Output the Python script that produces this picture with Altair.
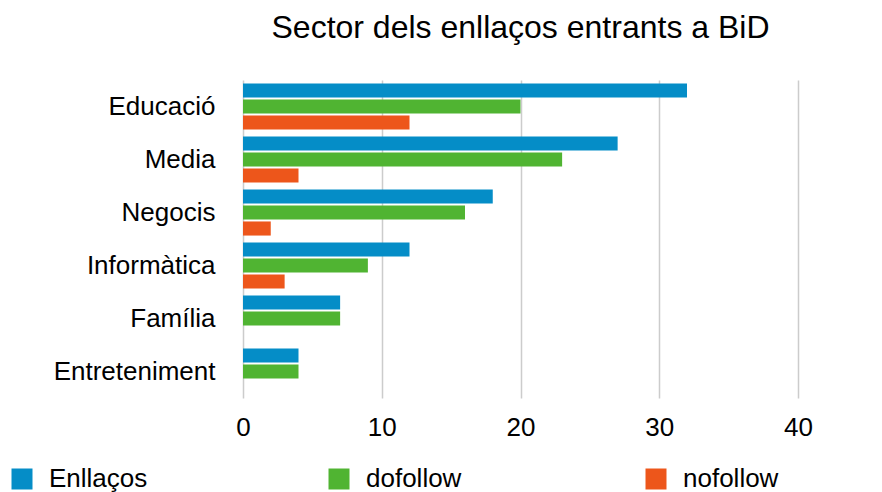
import altair as alt
import pandas as pd

categories = ["Educació", "Media", "Negocis", "Informàtica", "Família", "Entreteniment"]
series = ["Enllaços", "dofollow", "nofollow"]
enllacos = [32, 27, 18, 12, 7, 4]
dofollow = [20, 23, 16, 9, 7, 4]
nofollow = [12, 4, 2, 3, 0, 0]
colors = ["#058DC7", "#50B432", "#ED561B"]
x_ticks = [0, 10, 20, 30, 40]

rows = []
for i, c in enumerate(categories):
    for s, vals in zip(series, [enllacos, dofollow, nofollow]):
        rows.append({"Sector": c, "Serie": s, "Valor": vals[i]})
df = pd.DataFrame(rows)

FONT = "Liberation Sans"

chart = alt.Chart(df).mark_bar().encode(
    y=alt.Y("Sector:N", sort=categories,
            scale=alt.Scale(paddingInner=0.13, paddingOuter=0.065),
            axis=alt.Axis(title=None, ticks=False, domain=False, grid=False,
                          labelFontSize=26, labelFont=FONT, labelColor="#000000",
                          labelPadding=28, labelLimit=400)),
    yOffset=alt.YOffset("Serie:N", sort=series,
                        scale=alt.Scale(paddingInner=0.12, paddingOuter=0)),
    x=alt.X("Valor:Q", scale=alt.Scale(domain=[0, 40], nice=False),
            axis=alt.Axis(title=None, values=x_ticks, ticks=False, domain=False,
                          grid=True, gridColor="#cccccc", gridWidth=1.5,
                          labelFlush=False,
                          labelFontSize=26, labelFont=FONT, labelColor="#000000",
                          labelPadding=16)),
    color=alt.Color("Serie:N", sort=series,
                    scale=alt.Scale(domain=series, range=colors),
                    legend=alt.Legend(title=None, orient="none", legendX=-234, legendY=386,
                                      direction="horizontal", columns=3, gridAlign="all",
                                      columnPadding=178, symbolType="square", symbolSize=441,
                                      symbolStrokeWidth=0, symbolOffset=0,
                                      labelFontSize=26, labelFont=FONT, labelColor="#000000",
                                      labelOffset=14, labelLimit=400)),
).properties(
    width=555,
    height=318,
    title=alt.TitleParams("Sector dels enllaços entrants a BiD", fontSize=32, font=FONT,
                          fontWeight="normal", color="#000000", anchor="middle", offset=35),
    padding={"left": 1, "top": 4, "right": 5, "bottom": 0},
).configure_view(stroke=None)

chart.save("out.html", embed_options={"renderer": "svg", "actions": False})
